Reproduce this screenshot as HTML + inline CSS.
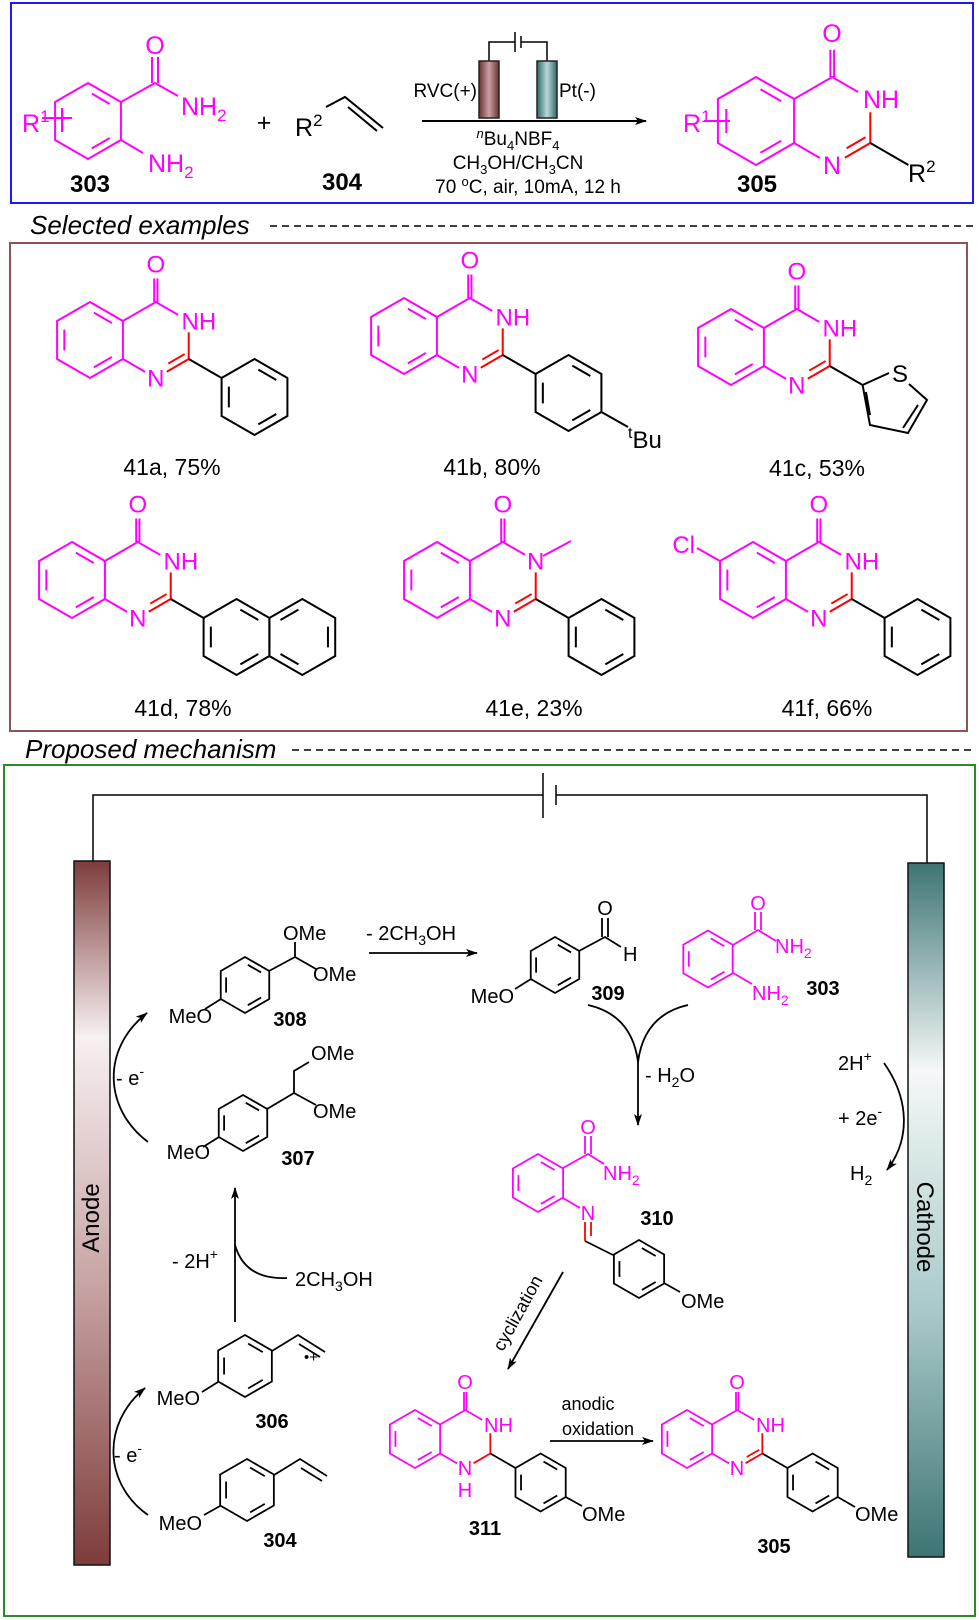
<!DOCTYPE html>
<html><head><meta charset="utf-8"><style>
html,body{margin:0;padding:0;background:#fff}
svg{display:block}
text{font-family:"Liberation Sans",sans-serif}
</style></head><body>
<svg width="979" height="1620" viewBox="0 0 979 1620" xmlns="http://www.w3.org/2000/svg">
<defs>
<g id="bzA" fill="none">
<polygon vector-effect="non-scaling-stroke" points="0,-1 .866,-.5 .866,.5 0,1 -.866,.5 -.866,-.5"/>
<path vector-effect="non-scaling-stroke" d="M.101,-.7215L.574,-.4485 M.574,.4485L.101,.7215 M-.675,.273L-.675,-.273"/>
</g>
<g id="bzB" fill="none">
<polygon vector-effect="non-scaling-stroke" points="0,-1 .866,-.5 .866,.5 0,1 -.866,.5 -.866,-.5"/>
<path vector-effect="non-scaling-stroke" d="M.675,-.273L.675,.273 M-.101,.7215L-.574,.4485 M-.574,-.4485L-.101,-.7215"/>
</g>
<g id="qz" fill="none">
<use href="#bzA" stroke="#f0f"/>
<path vector-effect="non-scaling-stroke" stroke="#f0f" d="M.866,-.5L1.732,-1L2.32,-.66 M1.69,-1V-1.62 M1.775,-1V-1.62 M1.45,.84L.866,.5"/>
<path vector-effect="non-scaling-stroke" stroke="#f00" d="M2.598,-.2V.5L2.02,.835"/>
<path vector-effect="non-scaling-stroke" stroke="#000" d="M2.598,.5L3.464,1"/>
</g>
<g id="cn" fill="none"><path vector-effect="non-scaling-stroke" stroke="#f00" d="M2.49,.37L2.06,.62"/></g>
<linearGradient id="gA" x1="0" y1="0" x2="0" y2="1">
<stop offset="0" stop-color="#7e3c3c"/><stop offset=".25" stop-color="#f7f0f0"/><stop offset=".6" stop-color="#c8a4a4"/><stop offset="1" stop-color="#7e3c3c"/></linearGradient>
<linearGradient id="gC" x1="0" y1="0" x2="0" y2="1">
<stop offset="0" stop-color="#3e7474"/><stop offset=".3" stop-color="#f4f8f8"/><stop offset=".65" stop-color="#a8c8c8"/><stop offset="1" stop-color="#3e7474"/></linearGradient>
<linearGradient id="gA2" x1="0" y1="0" x2="1" y2="0">
<stop offset="0" stop-color="#6e3030"/><stop offset=".5" stop-color="#c8a0a0"/><stop offset="1" stop-color="#6e3030"/></linearGradient>
<linearGradient id="gC2" x1="0" y1="0" x2="1" y2="0">
<stop offset="0" stop-color="#2f6868"/><stop offset=".5" stop-color="#bcd8d8"/><stop offset="1" stop-color="#2f6868"/></linearGradient>
<marker id="ah" viewBox="0 0 12 8" refX="11" refY="4" markerWidth="12" markerHeight="8" markerUnits="userSpaceOnUse" orient="auto">
<path d="M0,0L12,4L0,8L3,4Z" fill="#000"/></marker>
</defs>

<rect x="11" y="3" width="962" height="200" fill="none" stroke="#1a1aff" stroke-width="2"/>
<use href="#bzA" stroke="#f0f" stroke-width="2" transform="translate(88,121) scale(38)"/>
<path d="M121,102L155,83L178,96 M152,83V57 M158,83V57 M121,140L143,153 M42,118H72 M62,108V132" fill="none" stroke="#f0f" stroke-width="2"/>
<g fill="#f0f" font-size="25">
<text x="155" y="54" text-anchor="middle">O</text>
<text x="181" y="115">NH<tspan font-size="17" dy="6">2</tspan></text>
<text x="148" y="172">NH<tspan font-size="17" dy="6">2</tspan></text>
<text x="22" y="132">R<tspan font-size="17" dy="-10">1</tspan></text>
</g>
<text x="90" y="192" font-size="24" font-weight="bold" text-anchor="middle">303</text>
<text x="264" y="131" font-size="25" text-anchor="middle">+</text>
<text x="295" y="136" font-size="25">R<tspan font-size="17" dy="-10">2</tspan></text>
<path d="M326,107L345,97L383,128 M348,107L377,131" fill="none" stroke="#000" stroke-width="2"/>
<text x="342" y="190" font-size="24" font-weight="bold" text-anchor="middle">304</text>
<path d="M489,61V42H515 M521,42H547V61 M515,32V52 M521,36V48" fill="none" stroke="#000" stroke-width="1.5"/>
<rect x="479" y="61" width="20" height="57" fill="url(#gA2)" stroke="#222" stroke-width="1.5"/>
<rect x="537" y="61" width="20" height="57" fill="url(#gC2)" stroke="#222" stroke-width="1.5"/>
<text x="477" y="97" font-size="19" text-anchor="end">RVC(+)</text>
<text x="559" y="97" font-size="19">Pt(-)</text>
<line x1="422" y1="121" x2="646" y2="121" stroke="#000" stroke-width="2" marker-end="url(#ah)"/>
<g font-size="19" text-anchor="middle">
<text x="518" y="145"><tspan font-size="13" font-style="italic" dy="-7">n</tspan><tspan dy="7">Bu</tspan><tspan font-size="13" dy="5">4</tspan><tspan dy="-5">NBF</tspan><tspan font-size="13" dy="5">4</tspan></text>
<text x="518" y="169">CH<tspan font-size="13" dy="5">3</tspan><tspan dy="-5">OH/CH</tspan><tspan font-size="13" dy="5">3</tspan><tspan dy="-5">CN</tspan></text>
<text x="528" y="193">70 <tspan font-size="13" dy="-7">o</tspan><tspan dy="7">C, air, 10mA, 12 h</tspan></text>
</g>
<use href="#qz" stroke-width="2" transform="translate(756,121) scale(44)"/>
<use href="#cn" stroke-width="2" transform="translate(756,121) scale(44)"/>
<path d="M704,121H730" stroke="#f0f" stroke-width="2"/>
<g fill="#f0f" font-size="25">
<text x="832" y="42" text-anchor="middle">O</text>
<text x="863" y="108">NH</text>
<text x="832" y="174" text-anchor="middle">N</text>
<text x="683" y="132">R<tspan font-size="17" dy="-10">1</tspan></text>
</g>
<text x="908" y="182" font-size="25">R<tspan font-size="17" dy="-10">2</tspan></text>
<text x="757" y="192" font-size="24" font-weight="bold" text-anchor="middle">305</text>

<text x="30" y="234" font-size="26" font-style="italic">Selected examples</text>
<line x1="270" y1="226" x2="973" y2="226" stroke="#000" stroke-width="1.5" stroke-dasharray="7,5"/>
<rect x="10" y="243" width="957" height="488" fill="none" stroke="#8b5555" stroke-width="2"/>

<g stroke-width="2">
<use href="#qz" transform="translate(90,340) scale(38)"/><use href="#cn" transform="translate(90,340) scale(38)"/>
<use href="#bzA" stroke="#000" transform="translate(254.5,397) scale(38)"/>
<use href="#qz" transform="translate(404,336) scale(38)"/><use href="#cn" transform="translate(404,336) scale(38)"/>
<use href="#bzA" stroke="#000" transform="translate(568.5,393) scale(38)"/>
<use href="#qz" transform="translate(731,347) scale(38)"/><use href="#cn" transform="translate(731,347) scale(38)"/>
<use href="#qz" transform="translate(72,580) scale(38)"/><use href="#cn" transform="translate(72,580) scale(38)"/>
<use href="#bzA" stroke="#000" transform="translate(236.5,637) scale(38)"/>
<use href="#bzB" stroke="#000" transform="translate(302.3,637) scale(38)"/>
<use href="#qz" transform="translate(437,580) scale(38)"/><use href="#cn" transform="translate(437,580) scale(38)"/>
<use href="#bzA" stroke="#000" transform="translate(601.5,637) scale(38)"/>
<use href="#qz" transform="translate(753,580) scale(38)"/><use href="#cn" transform="translate(753,580) scale(38)"/>
<use href="#bzA" stroke="#000" transform="translate(917.5,637) scale(38)"/>
</g>
<path d="M601.4,412L628,427 M862.6,385L889,373 M909,384L927,400L908,433L870,425L862.6,385 M918,405L903,428 M870,415L866,392" fill="none" stroke="#000" stroke-width="2"/>
<path d="M543,556L571,541 M720,561L697,548" fill="none" stroke="#f0f" stroke-width="2"/>
<g fill="#f0f" font-size="24">
<text x="155.8" y="272.6" text-anchor="middle">O</text><text x="181.5" y="329.6">NH</text><text x="155.8" y="386.6" text-anchor="middle">N</text>
<text x="469.8" y="268.6" text-anchor="middle">O</text><text x="495.5" y="325.6">NH</text><text x="469.8" y="382.6" text-anchor="middle">N</text>
<text x="796.8" y="279.6" text-anchor="middle">O</text><text x="822.5" y="336.6">NH</text><text x="796.8" y="393.6" text-anchor="middle">N</text>
<text x="137.8" y="512.6" text-anchor="middle">O</text><text x="163.5" y="569.6">NH</text><text x="137.8" y="626.6" text-anchor="middle">N</text>
<text x="502.8" y="512.6" text-anchor="middle">O</text><text x="535.7" y="569.6" text-anchor="middle">N</text><text x="502.8" y="626.6" text-anchor="middle">N</text>
<text x="818.8" y="512.6" text-anchor="middle">O</text><text x="844.5" y="569.6">NH</text><text x="818.8" y="626.6" text-anchor="middle">N</text>
<text x="695" y="553" text-anchor="end">Cl</text>
</g>
<text x="900" y="382" font-size="24" text-anchor="middle">S</text>
<text x="628" y="448" font-size="24"><tspan font-size="16" dy="-10">t</tspan><tspan dy="10">Bu</tspan></text>
<g font-size="23" text-anchor="middle">
<text x="172" y="475">41a, 75%</text>
<text x="492" y="475">41b, 80%</text>
<text x="817" y="476">41c, 53%</text>
<text x="183" y="716">41d, 78%</text>
<text x="534" y="716">41e, 23%</text>
<text x="827" y="716">41f, 66%</text>
</g>

<text x="25" y="758" font-size="26" font-style="italic">Proposed mechanism</text>
<line x1="292" y1="750" x2="973" y2="750" stroke="#000" stroke-width="1.5" stroke-dasharray="7,5"/>
<rect x="4" y="765" width="971" height="851" fill="none" stroke="#2a8a2a" stroke-width="2"/>
<path d="M93,861V795H543 M556,795H927V863 M543,773V818 M556,785V805" fill="none" stroke="#000" stroke-width="1.5"/>
<rect x="74" y="861" width="36" height="704" fill="url(#gA)" stroke="#111" stroke-width="1.5"/>
<rect x="908" y="863" width="36" height="694" fill="url(#gC)" stroke="#111" stroke-width="1.5"/>
<text transform="translate(99,1218) rotate(-90)" font-size="24" text-anchor="middle">Anode</text>
<text transform="translate(917,1227) rotate(90)" font-size="24" text-anchor="middle">Cathode</text>

<g stroke-width="1.8">
<use href="#bzA" stroke="#000" transform="translate(245,985) scale(28)"/>
<use href="#bzA" stroke="#000" transform="translate(243,1123) scale(28)"/>
<use href="#bzA" stroke="#000" transform="translate(555,965) scale(28)"/>
<use href="#bzA" stroke="#f0f" transform="translate(708,959) scale(28.5)"/>
<use href="#bzA" stroke="#f0f" transform="translate(538,1183) scale(29)"/>
<use href="#bzA" stroke="#000" transform="translate(639,1269) scale(29)"/>
<use href="#bzA" stroke="#000" transform="translate(245,1366) scale(31)"/>
<use href="#bzA" stroke="#000" transform="translate(247,1490) scale(31)"/>
<use href="#qz" transform="translate(415,1439) scale(29)"/>
<use href="#bzA" stroke="#000" transform="translate(540.6,1482.5) scale(29)"/>
<use href="#qz" transform="translate(687,1439) scale(29)"/><use href="#cn" transform="translate(687,1439) scale(29)"/>
<use href="#bzA" stroke="#000" transform="translate(812.6,1482.5) scale(29)"/>
</g>
<path fill="none" stroke="#000" stroke-width="1.8" d="
M269,971L295,957V942 M295,957L316,969 M221,999L205,1009
M267,1109L294,1093V1071L309,1062 M294,1093L316,1105 M219,1137L203,1147
M579,951L605,937L621,947 M602,937V918 M608,937V918 M531,979L515,989
M585,1241L613,1255 M664,1283L680,1292
M565.7,1497L582,1506 M837.7,1497L855,1507
M272,1351L298,1335L325,1352 M299,1344L320,1357 M218,1382L202,1392
M274,1475L300,1459L327,1476 M301,1468L322,1481 M220,1506L204,1515"/>
<path fill="none" stroke="#f0f" stroke-width="1.8" d="M733,945L758,930L776,941 M755,930V912 M761,930V912 M733,973L752,984
M563,1168L588,1154L604,1164 M585,1154V1136 M591,1154V1136 M563,1198L580,1208"/>
<path fill="none" stroke="#f00" stroke-width="1.8" d="M585,1222V1241 M591,1222V1236"/>
<g font-size="20">
<text x="283" y="940">OMe</text><text x="313" y="981">OMe</text><text x="212" y="1023" text-anchor="end">MeO</text>
<text x="311" y="1060">OMe</text><text x="313" y="1118">OMe</text><text x="210" y="1159" text-anchor="end">MeO</text>
<text x="605" y="915" text-anchor="middle">O</text><text x="623" y="961">H</text><text x="514" y="1003" text-anchor="end">MeO</text>
<text x="681" y="1308">OMe</text>
<text x="582" y="1521">OMe</text><text x="855" y="1521">OMe</text>
<text x="200" y="1405" text-anchor="end">MeO</text><text x="202" y="1530" text-anchor="end">MeO</text>
<text x="304" y="1362" font-size="15">•+</text>
</g>
<g font-size="20" fill="#f0f">
<text x="758" y="910" text-anchor="middle">O</text>
<text x="775" y="953">NH<tspan font-size="14" dy="5">2</tspan></text>
<text x="752" y="1000">NH<tspan font-size="14" dy="5">2</tspan></text>
<text x="588" y="1134" text-anchor="middle">O</text>
<text x="603" y="1180">NH<tspan font-size="14" dy="5">2</tspan></text>
<text x="588" y="1220" text-anchor="middle">N</text>
<text x="465" y="1389" text-anchor="middle">O</text><text x="484" y="1432">NH</text>
<text x="465" y="1475" text-anchor="middle">N</text><text x="465" y="1497" text-anchor="middle">H</text>
<text x="737" y="1389" text-anchor="middle">O</text><text x="756" y="1432">NH</text>
<text x="737" y="1475" text-anchor="middle">N</text>
</g>
<g font-size="20" font-weight="bold" text-anchor="middle">
<text x="290" y="1026">308</text><text x="298" y="1165">307</text><text x="608" y="1000">309</text>
<text x="823" y="995">303</text><text x="657" y="1225">310</text><text x="485" y="1535">311</text>
<text x="774" y="1553">305</text><text x="272" y="1428">306</text><text x="280" y="1547">304</text>
</g>
<g fill="none" stroke="#000" stroke-width="1.8">
<line x1="369" y1="953" x2="477" y2="953" marker-end="url(#ah)"/>
<path d="M148,1142C105,1110 100,1050 147,1013" marker-end="url(#ah)"/>
<path d="M148,1515C105,1485 100,1425 145,1388" marker-end="url(#ah)"/>
<path d="M588,1005Q632,1015 638,1062 M688,1005Q644,1015 638,1062"/>
<line x1="638" y1="1060" x2="638" y2="1125" marker-end="url(#ah)"/>
<path d="M884,1063C910,1100 910,1140 887,1170" marker-end="url(#ah)"/>
<line x1="235" y1="1322" x2="235" y2="1188" marker-end="url(#ah)"/>
<path d="M235,1245Q245,1280 287,1278"/>
<line x1="563" y1="1272" x2="508" y2="1369" marker-end="url(#ah)"/>
<line x1="550" y1="1441" x2="653" y2="1441" marker-end="url(#ah)"/>
</g>
<g font-size="20">
<text x="366" y="940">- 2CH<tspan font-size="14" dy="5">3</tspan><tspan dy="-5">OH</tspan></text>
<text x="116" y="1085">- e<tspan font-size="14" dy="-9">-</tspan></text>
<text x="114" y="1462">- e<tspan font-size="14" dy="-9">-</tspan></text>
<text x="645" y="1082">- H<tspan font-size="14" dy="5">2</tspan><tspan dy="-5">O</tspan></text>
<text x="838" y="1070">2H<tspan font-size="14" dy="-9">+</tspan></text>
<text x="838" y="1125">+ 2e<tspan font-size="14" dy="-9">-</tspan></text>
<text x="850" y="1180">H<tspan font-size="14" dy="5">2</tspan></text>
<text x="172" y="1268">- 2H<tspan font-size="14" dy="-9">+</tspan></text>
<text x="295" y="1286">2CH<tspan font-size="14" dy="5">3</tspan><tspan dy="-5">OH</tspan></text>
</g>
<text transform="translate(523,1316) rotate(-61)" font-size="18" text-anchor="middle">cyclization</text>
<text x="588" y="1410" font-size="18" text-anchor="middle">anodic</text>
<text x="598" y="1435" font-size="18" text-anchor="middle">oxidation</text>
</svg>
</body></html>
